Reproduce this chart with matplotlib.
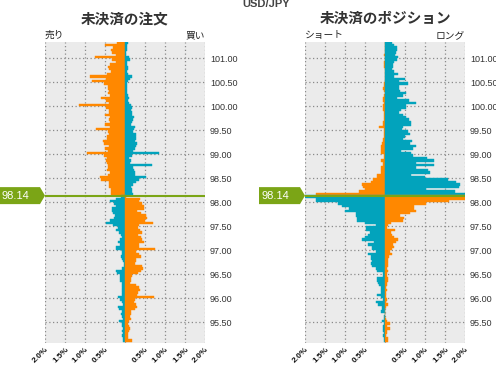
import numpy as np
import matplotlib
matplotlib.use("Agg")
import matplotlib.pyplot as plt
from matplotlib.patches import Polygon
from matplotlib.transforms import IdentityTransform

plt.rcParams['font.family'] = ['Noto Sans CJK JP', 'DejaVu Sans']

pair = 'USD/JPY'
current_price = 98.14
bin_size = 0.05

# lower edge of each price bin, from the top of the chart down
prices_above = np.round(101.30 - bin_size * np.arange(64), 2)   # 101.30 .. 98.15
prices_below = np.round(98.10 - bin_size * np.arange(61), 2)    # 98.10 .. 95.10

# open orders (%), above the current price
orders_sell_above = [0.20, 0.51, 0.30, 0.35, 0.32, 0.23, 0.75, 0.32, 0.23, 0.38,
                     0.42, 0.40, 0.36, 0.44, 0.88, 0.48, 0.82, 0.52, 0.42, 0.42,
                     0.40, 0.42, 0.38, 0.60, 0.48, 0.40, 1.15, 0.48, 0.40, 0.40,
                     0.50, 0.38, 0.40, 0.38, 0.50, 0.38, 0.72, 0.42, 0.40, 0.46,
                     0.46, 0.54, 0.52, 0.40, 0.50, 0.42, 0.94, 0.52, 0.44, 0.48,
                     0.45, 0.42, 0.42, 0.44, 0.38, 0.42, 0.62, 0.60, 0.40, 0.40,
                     0.40, 0.36, 0.34, 0.34]
orders_buy_above = [0.08, 0.06, 0.04, 0.04, 0.03, 0.03, 0.10, 0.12, 0.06, 0.06,
                    0.08, 0.07, 0.06, 0.08, 0.17, 0.12, 0.08, 0.06, 0.06, 0.05,
                    0.06, 0.06, 0.07, 0.10, 0.08, 0.10, 0.14, 0.17, 0.15, 0.18,
                    0.18, 0.23, 0.21, 0.18, 0.14, 0.25, 0.23, 0.20, 0.27, 0.27,
                    0.28, 0.25, 0.29, 0.27, 0.25, 0.20, 0.85, 0.18, 0.10, 0.14,
                    0.12, 0.67, 0.21, 0.23, 0.25, 0.25, 0.52, 0.35, 0.27, 0.20,
                    0.15, 0.17, 0.18, 0.20]
# open orders (%), below the current price
orders_sell_below = [0.10, 0.22, 0.38, 0.28, 0.23, 0.32, 0.33, 0.30, 0.25, 0.28,
                     0.38, 0.48, 0.30, 0.18, 0.22, 0.15, 0.11, 0.08, 0.12, 0.17,
                     0.12, 0.22, 0.22, 0.07, 0.08, 0.11, 0.08, 0.05, 0.03, 0.02,
                     0.07, 0.22, 0.19, 0.12, 0.12, 0.12, 0.07, 0.08, 0.08, 0.07,
                     0.08, 0.07, 0.18, 0.13, 0.07, 0.05, 0.17, 0.15, 0.07, 0.10,
                     0.08, 0.05, 0.15, 0.08, 0.07, 0.05, 0.07, 0.05, 0.07, 0.05,
                     0.05]
orders_buy_below = [0.03, 0.37, 0.35, 0.42, 0.47, 0.48, 0.29, 0.39, 0.52, 0.55,
                    0.50, 0.70, 0.35, 0.32, 0.38, 0.42, 0.32, 0.39, 0.43, 0.48,
                    0.35, 0.35, 0.75, 0.28, 0.35, 0.39, 0.27, 0.28, 0.25, 0.43,
                    0.45, 0.39, 0.33, 0.18, 0.15, 0.14, 0.12, 0.27, 0.35, 0.37,
                    0.32, 0.30, 0.73, 0.24, 0.23, 0.28, 0.29, 0.25, 0.16, 0.14,
                    0.12, 0.14, 0.10, 0.08, 0.10, 0.12, 0.10, 0.07, 0.08, 0.07,
                    0.17]

# open positions (%)
positions_short_above = [0, 0, 0, 0, 0, 0.03, 0, 0, 0.03, 0.03,
                         0.03, 0, 0, 0, 0, 0, 0, 0.03, 0.03, 0.05,
                         0.02, 0, 0.03, 0.05, 0.05, 0.02, 0.04, 0.04, 0.04, 0.02,
                         0.02, 0.02, 0.03, 0.06, 0.06, 0.15, 0.03, 0.03, 0.03, 0.03,
                         0.06, 0.06, 0.08, 0.10, 0.11, 0.10, 0.11, 0.03, 0.03, 0.11,
                         0.05, 0.05, 0.11, 0.11, 0.11, 0.21, 0.21, 0.30, 0.36, 0.58,
                         0.55, 0.51, 0.65, 1.73]
positions_long_above = [0.18, 0.23, 0.31, 0.29, 0.28, 0.26, 0.33, 0.29, 0.23, 0.21,
                        0.19, 0.17, 0.23, 0.33, 0.23, 0.50, 0.36, 0.58, 0.36, 0.36,
                        0.38, 0.53, 0.46, 0.29, 0.60, 0.78, 0.52, 0.52, 0.39, 0.34,
                        0.46, 0.53, 0.59, 0.66, 0.66, 0.45, 0.43, 0.58, 0.62, 0.49,
                        0.45, 0.67, 0.62, 0.77, 0.70, 0.41, 0.64, 0.70, 1.06, 1.22,
                        0.78, 1.22, 0.77, 1.08, 1.12, 0.64, 1.01, 1.57, 1.77, 1.88,
                        1.85, 1.02, 1.74, 2.20]
positions_short_below = [2.20, 1.73, 1.73, 1.18, 1.07, 0.90, 1.00, 0.73, 0.73, 0.70,
                         0.70, 0.50, 0.23, 0.47, 0.47, 0.37, 0.43, 0.50, 0.57, 0.28,
                         0.43, 0.33, 0.33, 0.22, 0.43, 0.34, 0.34, 0.32, 0.36, 0.33,
                         0.22, 0.19, 0.06, 0.06, 0.19, 0.19, 0.17, 0.15, 0.11, 0.11,
                         0.11, 0.19, 0.11, 0.06, 0.23, 0.17, 0.08, 0.08, 0.10, 0.00,
                         0.03, 0.02, 0.08, 0.03, 0.04, 0.04, 0.05, 0.02, 0.05, 0.03,
                         0.03]
positions_long_below = [2.20, 2.20, 1.59, 1.02, 0.72, 0.72, 0.78, 0.62, 0.38, 0.47,
                        0.45, 0.16, 0.08, 0.05, 0.24, 0.16, 0.18, 0.22, 0.32, 0.28,
                        0.20, 0.22, 0.18, 0.12, 0.18, 0.10, 0.08, 0.08, 0.08, 0.07,
                        0.05, 0.08, 0.04, 0.04, 0.08, 0.08, 0.06, 0.04, 0.03, 0.04,
                        0.03, 0.03, 0.02, 0.04, 0.03, 0.08, 0.02, 0.00, 0.00, 0.00,
                        0.00, 0.02, 0.06, 0.13, 0.06, 0.13, 0.04, 0.06, 0.03, 0.08,
                        0.08]

price_ticks = [95.5, 96.0, 96.5, 97.0, 97.5, 98.0, 98.5, 99.0, 99.5, 100.0, 100.5, 101.0]
pct_ticks = [-2.0, -1.5, -1.0, -0.5, 0.0, 0.5, 1.0, 1.5, 2.0]
pct_labels = ['2.0%', '1.5%', '1.0%', '0.5%', '', '0.5%', '1.0%', '1.5%', '2.0%']

ORANGE = '#FF8800'
TEAL = '#02A3BC'
GREEN = '#7BA516'
BG = '#EBEBEB'
SANS = ['Liberation Sans', 'DejaVu Sans']

W, H = 496, 365
fig = plt.figure(figsize=(W / 100, H / 100), dpi=100)
ax_ord = fig.add_axes([45 / W, 22 / H, 160 / W, 301 / H])
ax_pos = fig.add_axes([305 / W, 22 / H, 160 / W, 301 / H])


def draw_book(ax, left_above, right_above, left_below, right_below):
    ax.set_facecolor(BG)
    kw = dict(height=bin_size, align='edge', linewidth=0.3)
    ax.barh(prices_above, -np.array(left_above), color=ORANGE, edgecolor=ORANGE, **kw)
    ax.barh(prices_above, right_above, color=TEAL, edgecolor=TEAL, **kw)
    ax.barh(prices_below, -np.array(left_below), color=TEAL, edgecolor=TEAL, **kw)
    ax.barh(prices_below, right_below, color=ORANGE, edgecolor=ORANGE, **kw)
    ax.axhline(current_price, color=GREEN, lw=1.5, zorder=4)

    ax.set_xlim(-2, 2)
    ax.set_ylim(95.07, 101.34)
    ax.set_xticks(pct_ticks)
    ax.set_xticklabels(pct_labels, rotation=45, ha='right', va='top',
                       rotation_mode='anchor', fontsize=6, fontweight='bold',
                       family=SANS, color='#111111')
    ax.set_yticks(price_ticks)
    ax.set_yticklabels([f'{p:.2f}' for p in price_ticks], fontsize=6.5,
                       family=SANS, color='#333333')
    ax.yaxis.tick_right()
    ax.tick_params(axis='both', length=0)
    ax.tick_params(axis='y', pad=3.5)
    ax.tick_params(axis='x', pad=2)
    ax.grid(True, color='#8a8a8a', linestyle=(0, (1, 2)), lw=0.9)
    ax.set_axisbelow(True)
    for s in ax.spines.values():
        s.set_visible(False)


draw_book(ax_ord, orders_sell_above, orders_buy_above, orders_sell_below, orders_buy_below)
draw_book(ax_pos, positions_short_above, positions_long_above,
          positions_short_below, positions_long_below)


# green price tag pointing at the current price line
def price_tag(ax):
    x_tip, y = ax.transData.transform((-2, current_price))
    x0 = x_tip - 46
    pts = [(x0, y - 8.5), (x_tip - 5, y - 8.5), (x_tip, y), (x_tip - 5, y + 8.5), (x0, y + 8.5)]
    fig.add_artist(Polygon(pts, closed=True, facecolor=GREEN, edgecolor='none',
                           transform=IdentityTransform()))
    fig.text(x0 + 3, y, f'{current_price:.2f}', color='white', fontsize=8,
             ha='left', va='center', transform=IdentityTransform(), family=SANS)


price_tag(ax_ord)
price_tag(ax_pos)

fig.text(266 / W, 1 - 4 / H, pair, ha='center', va='center', fontsize=8,
         fontweight='bold', color='#444444', family=SANS)
fig.text(125 / W, 1 - 18 / H, '未決済の注文', ha='center', va='center',
         fontsize=10.5, fontweight='bold', color='#333333')
fig.text(385 / W, 1 - 18 / H, '未決済のポジション', ha='center', va='center',
         fontsize=10.5, fontweight='bold', color='#333333')

fig.text(45 / W, 1 - 35 / H, '売り', ha='left', va='center', fontsize=7, color='#222222')
fig.text(205 / W, 1 - 35 / H, '買い', ha='right', va='center', fontsize=7, color='#222222')
fig.text(305 / W, 1 - 35 / H, 'ショート', ha='left', va='center', fontsize=7, color='#222222')
fig.text(465 / W, 1 - 35 / H, 'ロング', ha='right', va='center', fontsize=7, color='#222222')

fig.savefig('out.png', dpi=100)
